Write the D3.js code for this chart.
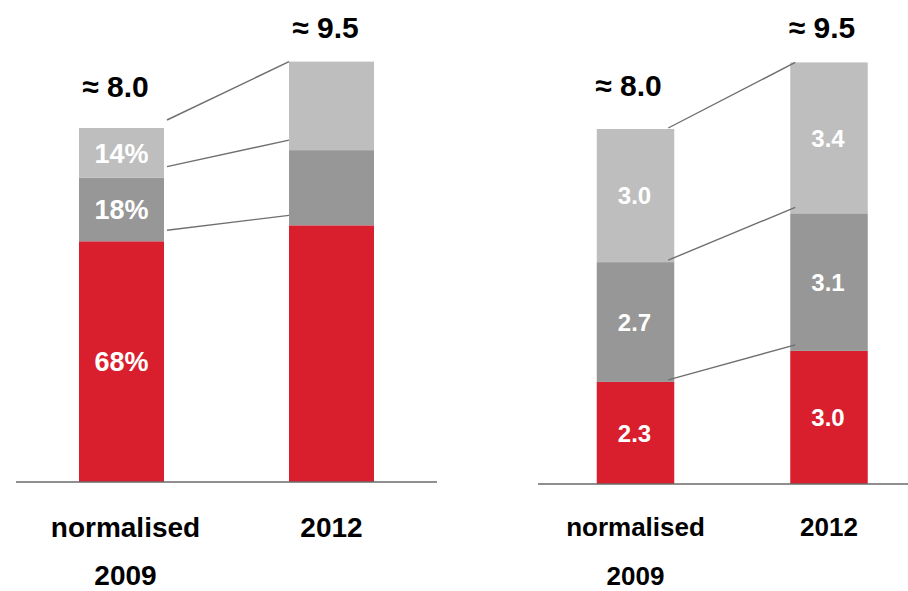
<!DOCTYPE html>
<html>
<head>
<meta charset="utf-8">
<script src="https://cdn.jsdelivr.net/npm/d3@7"></script>
<style>
  html, body { margin: 0; padding: 0; background: #ffffff; }
  svg { display: block; }
  text { font-family: "Liberation Sans", Arial, Helvetica, sans-serif; font-weight: bold; }
</style>
</head>
<body>
<svg id="chart" width="908" height="591"></svg>
<script>
// ---- data ----
const categories = ["normalised 2009", "2012"];
const categoryLines = [["normalised", "2009"], ["2012"]];
const segmentKeys = ["base", "mid", "top"];
const totals = [8.0, 9.5];
const totalLabels = ["≈ 8.0", "≈ 9.5"];

// left panel: 2009 split given as shares of the total, 2012 split read as values
const leftShares2009 = [68, 18, 14];
const leftBase2012 = 5.8;
const leftMid2012 = 1.7;
const leftTop2012 = 2.0;

// right panel: absolute values per segment
const rightBase = [2.3, 3.0];
const rightMid = [2.7, 3.1];
const rightTop = [3.0, 3.4];

const colors = { base: "#D91F2D", mid: "#979797", top: "#BEBEBE" };

// ---- build rows ----
const leftRows = [
  {
    cat: categories[0],
    base: totals[0] * leftShares2009[0] / 100,
    mid: totals[0] * leftShares2009[1] / 100,
    top: totals[0] * leftShares2009[2] / 100,
    labels: { base: leftShares2009[0] + "%", mid: leftShares2009[1] + "%", top: leftShares2009[2] + "%" }
  },
  { cat: categories[1], base: leftBase2012, mid: leftMid2012, top: leftTop2012, labels: null }
];
const rightRows = categories.map((c, i) => ({
  cat: c, base: rightBase[i], mid: rightMid[i], top: rightTop[i],
  labels: { base: rightBase[i].toFixed(1), mid: rightMid[i].toFixed(1), top: rightTop[i].toFixed(1) }
}));

const svg = d3.select("#chart");

function drawPanel(cfg, rows) {
  const g = svg.append("g");
  const x = d3.scalePoint().domain(categories).range([cfg.c0, cfg.c1]);
  const y = d3.scaleLinear().domain([0, 8]).range([cfg.y0, cfg.y8]);
  const stacked = d3.stack().keys(segmentKeys)(rows);

  // stacked bars
  stacked.forEach(layer => {
    g.selectAll(null).data(layer).enter().append("rect")
      .attr("x", d => x(d.data.cat) - cfg.bw / 2)
      .attr("width", cfg.bw)
      .attr("y", d => y(d[1]))
      .attr("height", d => y(d[0]) - y(d[1]))
      .attr("fill", colors[layer.key]);
  });

  // connector lines between matching segment tops of the two bars
  stacked.forEach((layer, si) => {
    const isTop = si === stacked.length - 1;
    g.append("line")
      .attr("x1", x(categories[0]) + cfg.bw / 2 + cfg.cx0)
      .attr("y1", y(layer[0][1]) + (isTop ? cfg.topY0 : cfg.cy0))
      .attr("x2", x(categories[1]) - cfg.bw / 2 + cfg.cx1)
      .attr("y2", y(layer[1][1]) + (isTop ? 0 : cfg.cy1))
      .attr("stroke", "#6f6f6f")
      .attr("stroke-width", 1.4);
  });

  // segment value labels
  stacked.forEach(layer => {
    g.selectAll(null).data(layer.filter(d => d.data.labels)).enter().append("text")
      .attr("x", d => x(d.data.cat) + cfg.lx)
      .attr("y", d => (y(d[0]) + y(d[1])) / 2)
      .attr("dy", "0.36em")
      .attr("text-anchor", "middle")
      .attr("fill", "#ffffff")
      .attr("font-size", cfg.segFont)
      .text(d => d.data.labels[layer.key]);
  });

  // total labels above the bars
  g.selectAll(null).data(categories).enter().append("text")
    .attr("x", c => x(c) + cfg.tx)
    .attr("y", (c, i) => y(totals[i]) - cfg.totalGap[i])
    .attr("text-anchor", "middle")
    .attr("fill", "#000000")
    .attr("font-size", 30)
    .text((c, i) => totalLabels[i]);

  // baseline
  g.append("line")
    .attr("x1", cfg.ax0).attr("x2", cfg.ax1)
    .attr("y1", y(0)).attr("y2", y(0))
    .attr("stroke", "#6a6a6a")
    .attr("stroke-width", 1.6);

  // category labels
  categories.forEach((c, i) => {
    categoryLines[i].forEach((line, li) => {
      g.append("text")
        .attr("x", x(c) + (i === 0 ? cfg.catDx : 0))
        .attr("y", y(0) + cfg.catGap + li * cfg.lineGap)
        .attr("text-anchor", "middle")
        .attr("fill", "#000000")
        .attr("font-size", cfg.catFont)
        .text(line);
    });
  });
}

drawPanel({
  c0: 121.5, c1: 331.5, bw: 85, y0: 482, y8: 128, ax0: 16, ax1: 437,
  cx0: 3, cy0: -11, topY0: -8, cx1: 0, cy1: -10,
  segFont: 27, lx: 0, tx: -6, totalGap: [31, 24],
  catFont: 28, catGap: 55, lineGap: 48, catDx: 4
}, leftRows);

drawPanel({
  c0: 635.5, c1: 829, bw: 77.5, y0: 484, y8: 129, ax0: 538, ax1: 908,
  cx0: -6, cy0: -2, topY0: -1, cx1: 5, cy1: -6,
  segFont: 24, lx: -1, tx: -7, totalGap: [33, 24],
  catFont: 26, catGap: 52, lineGap: 49, catDx: 0
}, rightRows);
</script>
</body>
</html>
